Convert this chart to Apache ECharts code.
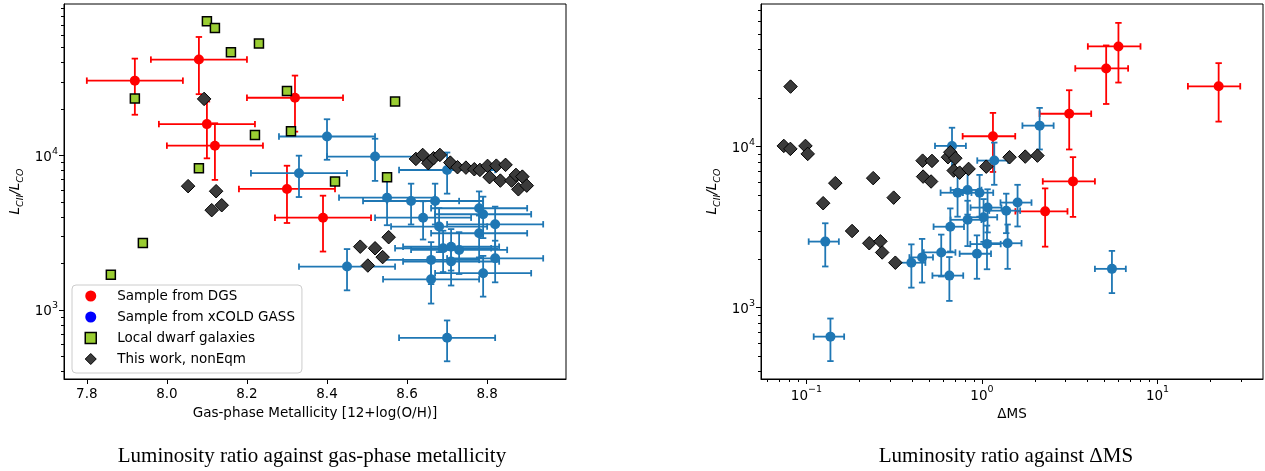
<!DOCTYPE html>
<html>
<head>
<meta charset="utf-8">
<script src="https://cdn.jsdelivr.net/npm/echarts@6/dist/echarts.min.js"></script>
<style>
html,body{margin:0;padding:0;background:#fff;}
#chart{width:1265px;height:471px;}
</style>
</head>
<body>
<div id="chart"></div>
<script>
// ---------- DATA ----------
// DGS sample (shared luminosity ratio between panels)
const dgsMetal    = [7.92, 8.08, 8.32, 8.10, 8.12, 8.30, 8.39];
const dgsMetalErr = [0.12, 0.12, 0.12, 0.12, 0.12, 0.12, 0.12];
const dgsRatio    = [30600, 41900, 23700, 16000, 11600, 6080, 3960];
const dgsRatioLo  = [18400, 25000, 14300, 9600, 6960, 3660, 2390];
const dgsRatioHi  = [42500, 58700, 33000, 22400, 16200, 8600, 5500];
const dgsDMS      = [5.10, 5.99, 22.3, 3.14, 1.155, 3.30, 2.29];
const dgsDMSLo    = [3.40, 4.01, 14.9, 2.13, 0.776, 2.22, 1.55];
const dgsDMSHi    = [6.80, 8.0, 29.6, 4.19, 1.547, 4.40, 3.07];

// xCOLD GASS sample, metallicity panel
const xcgMetal     = [8.70, 8.40, 8.52, 8.33, 8.55, 8.61, 8.67, 8.64, 8.68, 8.78, 8.79, 8.82, 8.78, 8.66, 8.69, 8.71, 8.73, 8.71, 8.82, 8.45, 8.79, 8.66, 8.70];
const xcgMetalErr  = [0.12, 0.12, 0.12, 0.12, 0.12, 0.12, 0.12, 0.12, 0.12, 0.12, 0.12, 0.12, 0.12, 0.12, 0.12, 0.12, 0.12, 0.12, 0.12, 0.12, 0.12, 0.12, 0.12];
const xcgRatioL    = [8070, 13300, 9860, 7690, 5340, 5080, 5080, 3960, 3470, 4560, 4170, 3590, 3140, 2110, 2510, 2570, 2450, 2060, 2160, 1910, 1730, 1580, 660];
const xcgRatioErrL = [2400, 3900, 3000, 2300, 1800, 1500, 1500, 1100, 1100, 1300, 1250, 1080, 950, 640, 750, 770, 740, 620, 650, 570, 510, 480, 195];

// xCOLD GASS sample, Delta MS panel
const xcgDMS       = [0.675, 1.175, 0.726, 0.828, 0.969, 1.076, 1.375, 1.595, 0.828, 1.021, 0.66, 1.068, 1.40, 0.936, 0.586, 0.456, 0.396, 0.652, 2.13, 0.128, 0.137, 5.50];
const xcgDMSErr    = [0.135, 0.235, 0.145, 0.165, 0.19, 0.215, 0.275, 0.32, 0.165, 0.2, 0.13, 0.21, 0.28, 0.19, 0.12, 0.07, 0.08, 0.13, 0.43, 0.025, 0.027, 1.1];
const xcgRatioR    = [10100, 8190, 5170, 5380, 5170, 4180, 4000, 4490, 3510, 3640, 3180, 2480, 2510, 2160, 2200, 2050, 1900, 1580, 13500, 2570, 660, 1740];
const xcgRatioErrR = [3000, 2400, 1500, 1600, 1500, 1250, 1100, 1300, 1100, 1080, 950, 750, 770, 650, 640, 620, 570, 480, 3900, 770, 195, 510];

// Local dwarf galaxies
const dwarfMetal = [8.10, 8.12, 8.16, 8.23, 7.92, 8.30, 8.31, 8.22, 8.08, 8.42, 8.57, 8.55, 7.94, 7.86];
const dwarfRatio = [74300, 67000, 46800, 53200, 23400, 26200, 14400, 13600, 8280, 6800, 22400, 7240, 2720, 1690];

// This work, nonEqm
const simMetal  = [8.093, 8.053, 8.123, 8.137, 8.112, 8.622, 8.639, 8.653, 8.666, 8.682, 8.708, 8.726, 8.747, 8.768, 8.782, 8.801, 8.823, 8.846, 8.806, 8.833, 8.861, 8.872, 8.888, 8.878, 8.899, 8.554, 8.483, 8.52, 8.539, 8.502];
const simRatioL = [23300, 6340, 5880, 4770, 4430, 9520, 10100, 8930, 9620, 10100, 9010, 8410, 8360, 8160, 8080, 8580, 8610, 8710, 7250, 6890, 6890, 7500, 7310, 6050, 6390, 2960, 2570, 2510, 2200, 1940];
const simDMS    = [0.0812, 0.0743, 0.081, 0.0987, 0.1017, 0.146, 0.1245, 0.240, 0.314, 0.459, 0.519, 0.462, 0.513, 0.182, 0.640, 0.66, 0.705, 0.69, 0.746, 0.839, 1.058, 1.436, 1.764, 2.07, 0.228, 0.264, 0.270, 0.321];
const simRatioR = [23600, 10100, 9680, 10100, 9010, 5930, 4450, 6370, 4820, 8180, 8150, 6510, 6070, 2990, 8590, 9230, 8470, 7100, 6890, 7270, 7510, 8590, 8670, 8790, 2510, 2580, 2200, 1900];

// Tick values
const metalTicks   = [7.8, 8.0, 8.2, 8.4, 8.6, 8.8];
const ratioMajor   = [1000, 10000];
const ratioMinorL  = [400,500,600,700,800,900,2000,3000,4000,5000,6000,7000,8000,9000,20000,30000,40000,50000,60000,70000,80000,90000];
const ratioMinorR  = [400,500,600,700,800,900,2000,3000,4000,5000,6000,7000,8000,9000,20000,30000,40000,50000,60000,70000];
const dmsMajor     = [0.1, 1, 10];
const dmsMinor     = [0.06,0.07,0.08,0.09,0.2,0.3,0.4,0.5,0.6,0.7,0.8,0.9,2,3,4,5,6,7,8,9,20,30];

// ---------- BUILD ----------
const FONT = 'DejaVu Sans';
const FS = 13.5;

function errRows(x, xlo, xhi, y, ylo, yhi) {
  return x.map((v, i) => [v, y[i], xlo[i], xhi[i], ylo[i], yhi[i]]);
}
function symRows(x, xe, y, ye) {
  return x.map((v, i) => [v, y[i], v - xe[i], v + xe[i], y[i] - ye[i], y[i] + ye[i]]);
}
function pts(x, y) { return x.map((v, i) => [v, y[i]]); }

function errSeries(data, color, xi, yi) {
  return {
    type: 'custom', coordinateSystem: 'cartesian2d', xAxisIndex: xi, yAxisIndex: yi,
    silent: true, data: data,
    renderItem: function (params, api) {
      const x = api.value(0), y = api.value(1);
      const l = api.coord([api.value(2), y]), r = api.coord([api.value(3), y]);
      const b = api.coord([x, api.value(4)]), t = api.coord([x, api.value(5)]);
      const st = { stroke: color, lineWidth: 1.8 };
      const cap = 3.2;
      const line = (x1, y1, x2, y2) => ({ type: 'line', shape: { x1, y1, x2, y2 }, style: st });
      return { type: 'group', children: [
        line(l[0], l[1], r[0], r[1]),
        line(b[0], b[1], t[0], t[1]),
        line(l[0], l[1] - cap, l[0], l[1] + cap),
        line(r[0], r[1] - cap, r[0], r[1] + cap),
        line(b[0] - cap, b[1], b[0] + cap, b[1]),
        line(t[0] - cap, t[1], t[0] + cap, t[1])
      ]};
    }
  };
}

const supRich = {
  b: { fontFamily: FONT, fontSize: FS, color: '#000', lineHeight: 18, verticalAlign: 'bottom' },
  s: { fontFamily: FONT, fontSize: 9.5, color: '#000', lineHeight: 18, verticalAlign: 'top' }
};
function powFmt(v) {
  const e = Math.round(Math.log10(v));
  return '{b|10}{s|' + (e < 0 ? '\u2212' + (-e) : e) + '}';
}
const yName = '{i|L}{s|CII}{i|/L}{s|CO}';
const yNameStyle = {
  rich: {
    i: { fontFamily: FONT, fontStyle: 'italic', fontSize: FS, color: '#000', lineHeight: 18, verticalAlign: 'top' },
    s: { fontFamily: FONT, fontStyle: 'italic', fontSize: 9.5, color: '#000', lineHeight: 18, verticalAlign: 'bottom' }
  }
};

const axisLineStyle = { show: true, lineStyle: { color: '#000', width: 1 } };
const captionStyle = { fontFamily: 'Liberation Serif', fontSize: 21, fontWeight: 'normal', color: '#000' };

const option = {
  animation: false,
  backgroundColor: '#fff',
  grid: [
    { left: 64, top: 4, width: 502, height: 375, show: true, borderColor: '#000', borderWidth: 1, containLabel: false },
    { left: 761, top: 4, width: 502, height: 375, show: true, borderColor: '#000', borderWidth: 1, containLabel: false }
  ],
  title: [
    { text: 'Luminosity ratio against gas-phase metallicity', left: 307, top: 441, textAlign: 'center', textStyle: captionStyle },
    { text: 'Luminosity ratio against \u0394MS', left: 1001, top: 441, textAlign: 'center', textStyle: captionStyle }
  ],
  legend: {
    left: 72, top: 285, orient: 'vertical',
    padding: [4, 7, 7, 12.5], itemGap: 7, itemWidth: 11, itemHeight: 11,
    backgroundColor: 'rgba(255,255,255,0.8)', borderColor: '#cccccc', borderWidth: 1, borderRadius: 4,
    textStyle: { fontFamily: FONT, fontSize: FS, color: '#000', padding: [0, 0, 0, 16] },
    selectedMode: false,
    data: [
      { name: 'Sample from DGS', icon: 'circle', itemStyle: { color: '#ff0000', borderWidth: 0 } },
      { name: 'Sample from xCOLD GASS', icon: 'circle', itemStyle: { color: '#0000ff', borderWidth: 0 } },
      { name: 'Local dwarf galaxies', icon: 'rect', itemStyle: { color: '#9acd32', borderColor: '#000', borderWidth: 1.5 } },
      { name: 'This work, nonEqm', icon: 'diamond', itemStyle: { color: '#3b3b3b', borderColor: '#000', borderWidth: 1 } }
    ]
  },
  xAxis: [
    { type: 'value', gridIndex: 0, min: 7.743, max: 8.997, position: 'bottom',
      name: 'Gas-phase Metallicity [12+log(O/H)]', nameLocation: 'middle', nameGap: 27,
      nameTextStyle: { fontFamily: FONT, fontSize: FS, color: '#000' },
      axisLine: axisLineStyle, splitLine: { show: false },
      axisTick: { show: true, inside: false, length: 5, customValues: metalTicks, lineStyle: { color: '#000' } },
      axisLabel: { show: true, margin: 8, customValues: metalTicks, fontFamily: FONT, fontSize: FS, color: '#000',
        formatter: v => v.toFixed(1) } },
    { type: 'log', logBase: 10, gridIndex: 1, min: 0.0551, max: 39.9, position: 'bottom',
      name: '\u0394MS', nameLocation: 'middle', nameGap: 27,
      nameTextStyle: { fontFamily: FONT, fontSize: FS, color: '#000' },
      axisLine: axisLineStyle, splitLine: { show: false },
      axisTick: { show: true, inside: false, length: 5, customValues: dmsMajor, lineStyle: { color: '#000' } },
      axisLabel: { show: true, margin: 6, customValues: dmsMajor, formatter: powFmt, rich: supRich } },
    { type: 'log', logBase: 10, gridIndex: 1, min: 0.0551, max: 39.9, position: 'bottom',
      axisLine: { show: false }, splitLine: { show: false },
      axisTick: { show: true, inside: false, length: 3, customValues: dmsMinor, lineStyle: { color: '#000' } },
      axisLabel: { show: false } }
  ],
  yAxis: [
    { type: 'log', logBase: 10, gridIndex: 0, min: 357, max: 96000, position: 'left',
      name: yName, nameLocation: 'middle', nameGap: 38, nameRotate: 90, nameTextStyle: yNameStyle,
      axisLine: axisLineStyle, splitLine: { show: false },
      axisTick: { show: true, inside: false, length: 5, customValues: ratioMajor, lineStyle: { color: '#000' } },
      axisLabel: { show: true, margin: 6, customValues: ratioMajor, formatter: powFmt, rich: supRich } },
    { type: 'log', logBase: 10, gridIndex: 0, min: 357, max: 96000, position: 'left',
      axisLine: { show: false }, splitLine: { show: false },
      axisTick: { show: true, inside: false, length: 3, customValues: ratioMinorL, lineStyle: { color: '#000' } },
      axisLabel: { show: false } },
    { type: 'log', logBase: 10, gridIndex: 1, min: 360, max: 76900, position: 'left',
      name: yName, nameLocation: 'middle', nameGap: 38, nameRotate: 90, nameTextStyle: yNameStyle,
      axisLine: axisLineStyle, splitLine: { show: false },
      axisTick: { show: true, inside: false, length: 5, customValues: ratioMajor, lineStyle: { color: '#000' } },
      axisLabel: { show: true, margin: 6, customValues: ratioMajor, formatter: powFmt, rich: supRich } },
    { type: 'log', logBase: 10, gridIndex: 1, min: 360, max: 76900, position: 'left',
      axisLine: { show: false }, splitLine: { show: false },
      axisTick: { show: true, inside: false, length: 3, customValues: ratioMinorR, lineStyle: { color: '#000' } },
      axisLabel: { show: false } }
  ],
  series: [
    // Left panel
    errSeries(errRows(dgsMetal, dgsMetal.map((v,i)=>v-dgsMetalErr[i]), dgsMetal.map((v,i)=>v+dgsMetalErr[i]), dgsRatio, dgsRatioLo, dgsRatioHi), '#ff0000', 0, 0),
    { name: 'Sample from DGS', type: 'scatter', xAxisIndex: 0, yAxisIndex: 0, symbol: 'circle', symbolSize: 10,
      itemStyle: { color: '#ff0000', opacity: 1 }, data: pts(dgsMetal, dgsRatio) },
    errSeries(symRows(xcgMetal, xcgMetalErr, xcgRatioL, xcgRatioErrL), '#1f77b4', 0, 0),
    { name: 'Sample from xCOLD GASS', type: 'scatter', xAxisIndex: 0, yAxisIndex: 0, symbol: 'circle', symbolSize: 10,
      itemStyle: { color: '#1f77b4', opacity: 1 }, data: pts(xcgMetal, xcgRatioL) },
    { name: 'Local dwarf galaxies', type: 'scatter', xAxisIndex: 0, yAxisIndex: 0, symbol: 'rect', symbolSize: 9,
      itemStyle: { color: '#9acd32', borderColor: '#000', borderWidth: 1.5, opacity: 1 }, data: pts(dwarfMetal, dwarfRatio) },
    { name: 'This work, nonEqm', type: 'scatter', xAxisIndex: 0, yAxisIndex: 0, symbol: 'diamond', symbolSize: [13.5, 13.5],
      itemStyle: { color: '#3b3b3b', borderColor: '#000', borderWidth: 1, opacity: 1 }, data: pts(simMetal, simRatioL) },
    // Right panel
    errSeries(errRows(dgsDMS, dgsDMSLo, dgsDMSHi, dgsRatio, dgsRatioLo, dgsRatioHi), '#ff0000', 1, 2),
    { name: 'Sample from DGS', type: 'scatter', xAxisIndex: 1, yAxisIndex: 2, symbol: 'circle', symbolSize: 10,
      itemStyle: { color: '#ff0000', opacity: 1 }, data: pts(dgsDMS, dgsRatio) },
    errSeries(symRows(xcgDMS, xcgDMSErr, xcgRatioR, xcgRatioErrR), '#1f77b4', 1, 2),
    { name: 'Sample from xCOLD GASS', type: 'scatter', xAxisIndex: 1, yAxisIndex: 2, symbol: 'circle', symbolSize: 10,
      itemStyle: { color: '#1f77b4', opacity: 1 }, data: pts(xcgDMS, xcgRatioR) },
    { name: 'This work, nonEqm', type: 'scatter', xAxisIndex: 1, yAxisIndex: 2, symbol: 'diamond', symbolSize: [13.5, 13.5],
      itemStyle: { color: '#3b3b3b', borderColor: '#000', borderWidth: 1, opacity: 1 }, data: pts(simDMS, simRatioR) }
  ]
};

const chart = echarts.init(document.getElementById('chart'), null, { renderer: 'canvas' });
chart.setOption(option);
</script>
</body>
</html>
